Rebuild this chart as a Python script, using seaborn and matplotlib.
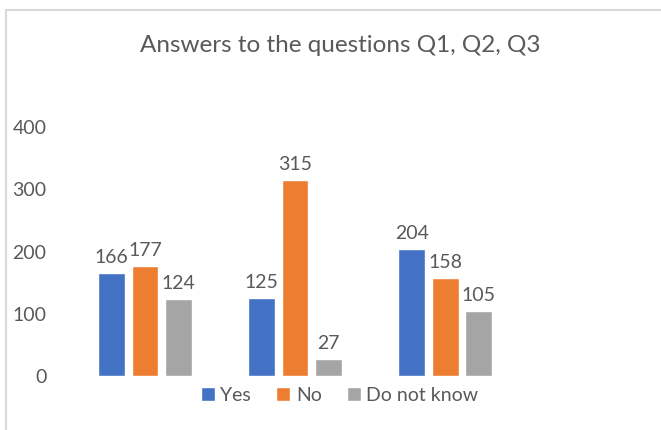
import pandas as pd
import seaborn as sns
import matplotlib.pyplot as plt
from matplotlib.lines import Line2D

# data
questions = ["Q1", "Q2", "Q3"]
answers = ["Yes", "No", "Do not know"]
yes = [166, 125, 204]
no = [177, 315, 158]
dont_know = [124, 27, 105]

colors = ["#4472C4", "#ED7D31", "#A5A5A5"]
text_col = "#595959"

df = pd.DataFrame({
    "question": questions * 3,
    "answer": [a for a in answers for _ in questions],
    "count": yes + no + dont_know,
})

sns.set_theme(style="white")
plt.rcParams["font.family"] = ["Lato", "DejaVu Sans"]

fig = plt.figure(figsize=(6.61, 4.30), dpi=100)
ax = fig.add_axes([0.106, 0.1256, 0.681, 0.579])

sns.barplot(data=df, x="question", y="count", hue="answer",
            palette=colors, width=0.667, gap=0.2, ax=ax,
            saturation=1, legend=True)

for c in ax.containers:
    ax.bar_label(c, padding=5, fontsize=14, color=text_col)

ax.set_xlim(-0.5, 2.5)
ax.set_ylim(0, 400)
ax.set_yticks([0, 100, 200, 300, 400])
ax.set_xticks([])
ax.set_xlabel("")
ax.set_ylabel("")
ax.tick_params(axis="y", length=0, pad=17, labelsize=14, labelcolor=text_col)
for s in ax.spines.values():
    s.set_visible(False)

ax.legend_.remove()
fig.legend(*ax.get_legend_handles_labels(), loc="center",
           bbox_to_anchor=(0.514, 0.081), ncol=3, frameon=False,
           fontsize=14, labelcolor=text_col, handlelength=0.7,
           handleheight=0.7, handletextpad=0.3, columnspacing=1.3)

fig.text(0.514, 0.895, "Answers to the questions Q1, Q2, Q3",
         ha="center", va="center", fontsize=17.5, color=text_col)

# chart frame (cropped at right/bottom)
fig.add_artist(Line2D([6/661, 1], [1 - 10/430, 1 - 10/430],
                      transform=fig.transFigure, color="#D9D9D9", lw=1.5))
fig.add_artist(Line2D([6/661, 6/661], [0, 1 - 10/430],
                      transform=fig.transFigure, color="#D9D9D9", lw=1.5))

fig.savefig("out.png", dpi=100)
